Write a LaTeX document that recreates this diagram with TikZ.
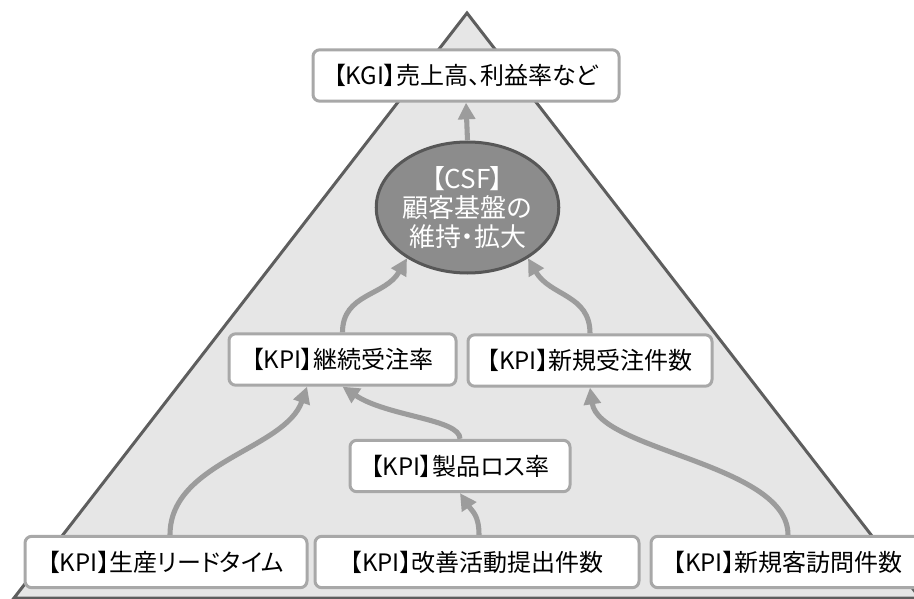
\documentclass[tikz,border=0pt]{standalone}
\usepackage{fontspec}
\setmainfont{Noto Sans CJK JP}[RawFeature=+palt]
\usetikzlibrary{arrows.meta,shapes.geometric}
\definecolor{trifill}{HTML}{E6E6E6}
\definecolor{triline}{HTML}{5E5E5E}
\definecolor{boxline}{HTML}{A8A8A8}
\definecolor{arrowcol}{HTML}{9C9C9C}
\definecolor{csffill}{HTML}{8C8C8C}
\definecolor{csfline}{HTML}{575757}
\tikzset{
  kbox/.style={draw=boxline, line width=2.25pt, fill=white, rounded corners=5pt,
    minimum height=38.5pt, inner sep=0pt, font=\fontsize{18pt}{21pt}\selectfont},
  flow/.style={draw=arrowcol, line width=3.8pt,
    -{Triangle[length=12.5pt,width=12.5pt]}},
}
\begin{document}
\begin{tikzpicture}[x=0.75pt,y=-0.75pt]
\useasboundingbox (0,0) rectangle (914,599);
\clip (0,0) rectangle (914,599);
% pyramid
\draw[fill=trifill, draw=triline, line width=2.25pt, line join=miter]
  (467,13) -- (14,598) -- (920,598) -- cycle;
% nodes
\node[kbox, minimum width=229.5pt] (kgi) at (466,75.5) {【KGI】売上高、利益率など};
\node[ellipse, draw=csfline, line width=2.25pt, fill=csffill, text=white,
  minimum width=128.25pt, minimum height=98.25pt, inner sep=0pt, align=center,
  font=\fontsize{19.5pt}{21.75pt}\selectfont] (csf) at (467.5,207.5)
  {【CSF】\\顧客基盤の\\維持・拡大};
\node[kbox, minimum width=170.25pt] (keizoku) at (342.5,359.5) {【KPI】継続受注率};
\node[kbox, minimum width=183pt] (shinki) at (590,360.5) {【KPI】新規受注件数};
\node[kbox, minimum width=165pt] (loss) at (460,466) {【KPI】製品ロス率};
\node[kbox, minimum width=211.5pt] (seisan) at (166,562) {【KPI】生産リードタイム};
\node[kbox, minimum width=243pt] (kaizen) at (477,562) {【KPI】改善活動提出件数};
\node[kbox, minimum width=205.5pt] (homon) at (788,562) {【KPI】新規客訪問件数};
% connectors
\draw[flow] (csf.north) -- (kgi.south);
\draw[flow] (keizoku.north) .. controls +(0,-39) and +(-22,38) .. (csf.220);
\draw[flow] (shinki.north) .. controls +(0,-39) and +(22,38) .. (csf.-40);
\draw[flow] ([xshift=3pt]seisan.north) .. controls +(0,-73) and +(-22,63) .. ([xshift=-26.6pt]keizoku.south);
\draw[flow] (loss.north) .. controls +(0,-20) and +(45,30) .. (keizoku.south);
\draw[flow] ([xshift=1.5pt]kaizen.north) .. controls +(0,-20) and +(12,18) .. (loss.south);
\draw[flow] (homon.north) .. controls +(0,-71) and +(9,63) .. (shinki.south);
\end{tikzpicture}
\end{document}
